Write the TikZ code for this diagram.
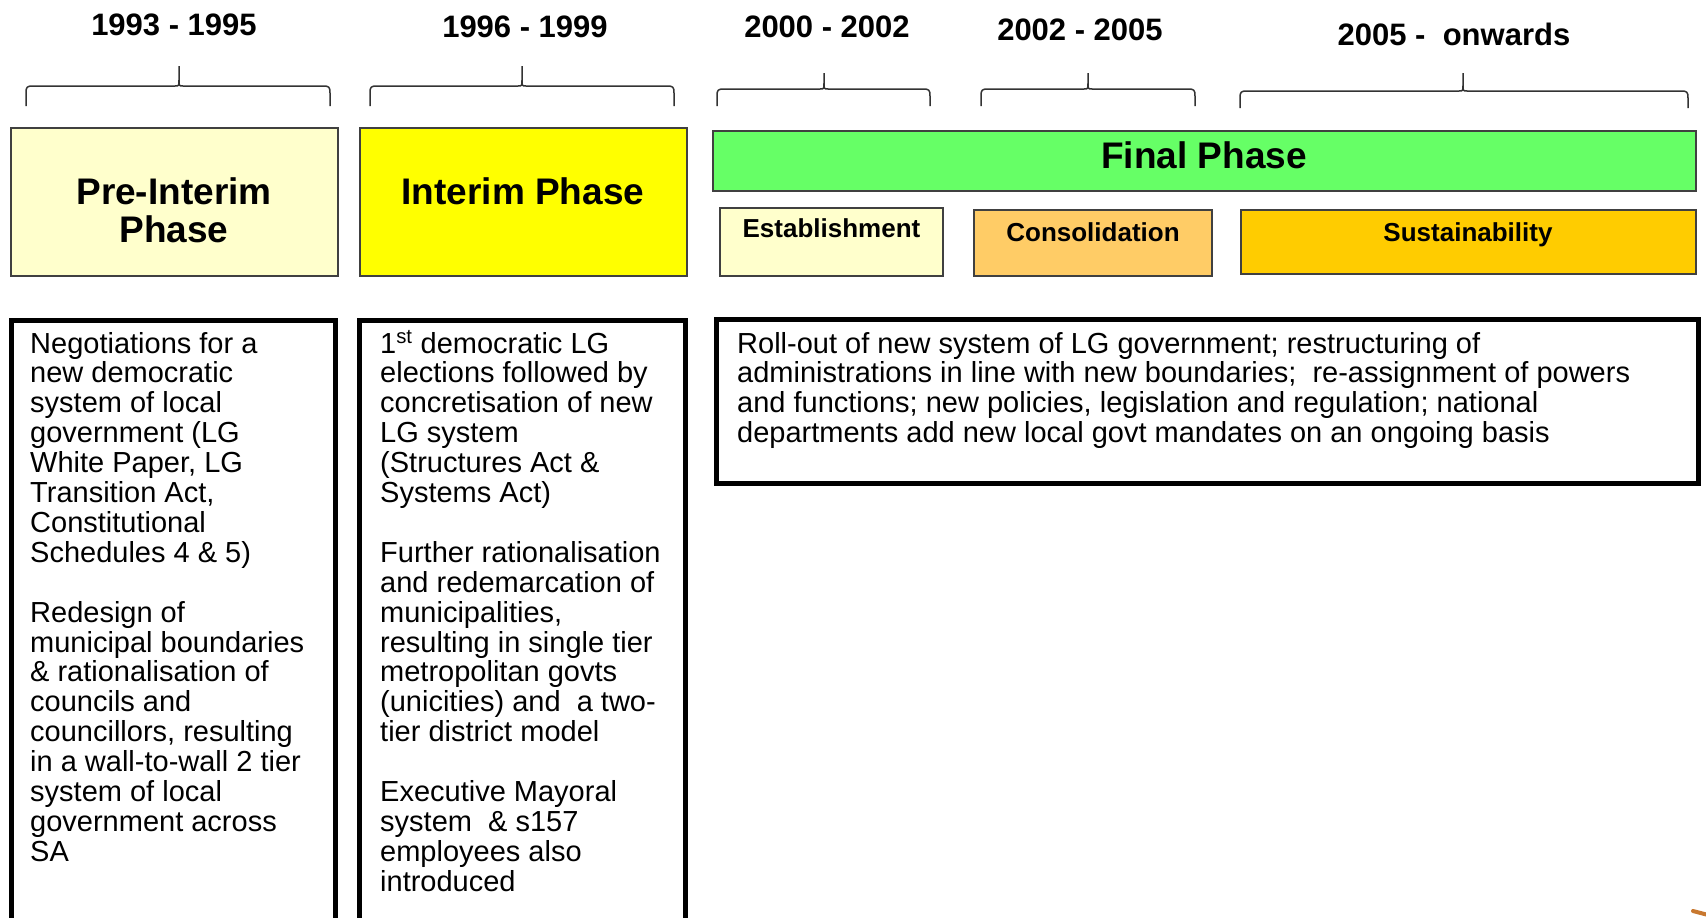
\documentclass[tikz,border=0pt]{standalone}
\usepackage{fontspec}
\setmainfont{Liberation Sans}
\definecolor{paleyellow}{HTML}{FFFFCC}
\definecolor{brightyellow}{HTML}{FFFF00}
\definecolor{phasegreen}{HTML}{66FF66}
\definecolor{lightorange}{HTML}{FFCC66}
\definecolor{gold}{HTML}{FFCC00}
\definecolor{rust}{HTML}{C8782F}

% curly bracket over a period: left end, tip, right end, tip height, bar height, foot height
\newcommand{\phasebrace}[6]{%
  \draw[bracestyle] (#1,#6) -- (#1,{#5+7}) .. controls (#1,{#5+1}) and ({#1+1},#5) .. ({#1+7},#5)
    -- ({#2-4},#5) .. controls (#2,#5) .. (#2,{#5-6}) -- (#2,#4)
    -- (#2,{#5-6}) .. controls (#2,#5) .. ({#2+4},#5)
    -- ({#3-7},#5) .. controls ({#3-1},#5) and (#3,{#5+1}) .. (#3,{#5+7}) -- (#3,#6);}

% multi-line nodes below sit on the baseline of their last line
\tikzset{
  bracestyle/.style={draw=black!80, line width=1.5pt},
  yearlabel/.style={anchor=base, inner sep=0pt, font=\bfseries\fontsize{31}{31}\selectfont},
  phasebox/.style={draw=black!75, line width=2pt, inner sep=0pt},
  phasetitle/.style={anchor=base, inner sep=0pt, align=center, font=\bfseries\fontsize{37}{38}\selectfont},
  subtitle/.style={anchor=base, inner sep=0pt, font=\bfseries\fontsize{26}{26}\selectfont},
  notebox/.style={draw=black, line width=5pt, inner sep=0pt},
  notetext/.style={anchor=base west, inner sep=0pt, align=left, font=\fontsize{29}{29.9}\selectfont},
}

\begin{document}
\begin{tikzpicture}[x=1pt, y=-1pt]
\clip (0,0) rectangle (1706,918);
\fill[white] (0,0) rectangle (1706,918);

% period labels
\node[yearlabel] (y1) at (174,35) {1993 - 1995};
\node[yearlabel] (y2) at (525,37) {1996 - 1999};
\node[yearlabel] (y3) at (827,37) {2000 - 2002};
\node[yearlabel] (y4) at (1080,40) {2002 - 2005};
\node[yearlabel] (y5) at (1454,45) {2005 -\ \ onwards};

% brackets under the period labels
\phasebrace{26}{179}{330}{66}{86}{106}
\phasebrace{370}{522}{674}{66}{86}{106}
\phasebrace{717}{824}{930}{73}{89}{106}
\phasebrace{981}{1088}{1195}{73}{89}{106}
\phasebrace{1240}{1463}{1688}{73}{91}{108}

% phase boxes
\node[phasebox, fill=paleyellow, minimum width=327pt, minimum height=148pt] (pre) at (174,202) {};
\node[phasetitle] (pretitle) at (174,242) {Pre-Interim\\[0pt]Phase};
\node[phasebox, fill=brightyellow, minimum width=327pt, minimum height=148pt] (interim) at (523,202) {};
\node[phasetitle] (interimtitle) at (523,204) {Interim Phase};
\node[phasebox, fill=phasegreen, minimum width=983pt, minimum height=60pt] (final) at (1204.5,161) {};
\node[phasetitle] (finaltitle) at (1204,168) {Final Phase};

% stages of the final phase
\node[phasebox, fill=paleyellow, minimum width=223pt, minimum height=68pt] (establish) at (831.5,242) {};
\node[subtitle] (establishtitle) at (831.5,237) {Establishment};
\node[phasebox, fill=lightorange, minimum width=238pt, minimum height=66pt] (consol) at (1093,243) {};
\node[subtitle] (consoltitle) at (1093,241) {Consolidation};
\node[phasebox, fill=gold, minimum width=455pt, minimum height=64pt] (sustain) at (1468.5,242) {};
\node[subtitle] (sustaintitle) at (1468,241) {Sustainability};

% description boxes
\node[notebox, minimum width=324pt, minimum height=619pt] (noteA) at (173,630) {};
\node[notebox, minimum width=326pt, minimum height=619pt] (noteB) at (522.5,630) {};
\node[notebox, minimum width=982pt, minimum height=164pt] (noteC) at (1207.5,401.5) {};

% first baseline 353, line pitch 29.9
\node[notetext] (textA) at (30,861.3) {Negotiations for a\\
new democratic\\
system of local\\
government (LG\\
White Paper, LG\\
Transition Act,\\
Constitutional\\
Schedules 4 \& 5)\\[29.9pt]
Redesign of\\
municipal boundaries\\
\& rationalisation of\\
councils and\\
councillors, resulting\\
in a wall-to-wall 2 tier\\
system of local\\
government across\\
SA};

\node[notetext] (textB) at (380,891.2) {1\textsuperscript{st} democratic LG\\
elections followed by\\
concretisation of new\\
LG system\\
(Structures Act \&\\
Systems Act)\\[29.9pt]
Further rationalisation\\
and redemarcation of\\
municipalities,\\
resulting in single tier\\
metropolitan govts\\
(unicities) and\ \ a two-\\
tier district model\\[29.9pt]
Executive Mayoral\\
system\ \ \& s157\\
employees also\\
introduced};

\node[notetext] (textC) at (737,442.7) {Roll-out of new system of LG government; restructuring of\\
administrations in line with new boundaries;\ \ re-assignment of powers\\
and functions; new policies, legislation and regulation; national\\
departments add new local govt mandates on an ongoing basis};

% clipped graphic at the lower right corner
\draw[rust, line width=4pt, line cap=round] (1693,911) -- (1712,916);
\end{tikzpicture}
\end{document}
